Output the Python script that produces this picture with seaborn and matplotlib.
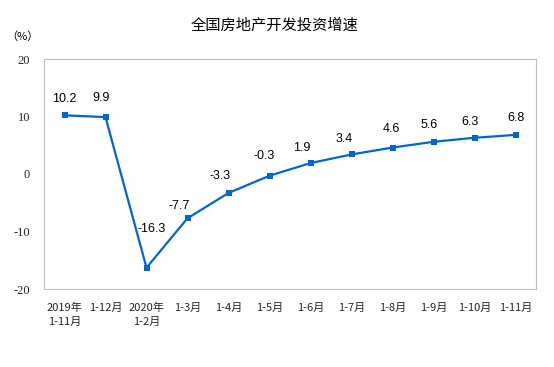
import matplotlib
matplotlib.use("Agg")
import matplotlib.pyplot as plt
import seaborn as sns
import numpy as np
import pandas as pd

# data
periods = ["2019年\n1-11月", "1-12月", "2020年\n1-2月", "1-3月", "1-4月", "1-5月",
           "1-6月", "1-7月", "1-8月", "1-9月", "1-10月", "1-11月"]
growth = [10.2, 9.9, -16.3, -7.7, -3.3, -0.3, 1.9, 3.4, 4.6, 5.6, 6.3, 6.8]
y_ticks = [-20, -10, 0, 10, 20]

# label offsets in points (dx, dy)
label_offsets = [(0, 12), (-3, 14), (4, 28), (-6, 9), (-6, 12), (-4, 14),
                 (-6, 11), (-5, 11), (-1, 13), (-3, 12), (-3, 11), (0, 12)]

sns.set_theme(style="white")
plt.rcParams['font.family'] = ['Noto Sans CJK SC', 'DejaVu Sans']

df = pd.DataFrame({"pos": np.arange(len(periods)), "growth": growth})

fig = plt.figure(figsize=(5.54, 3.67), dpi=100)
ax = fig.add_axes([44 / 554, 1 - 289 / 367, (536 - 44) / 554, (289 - 59) / 367])

line_color = "#0066CC"
sns.lineplot(data=df, x="pos", y="growth", ax=ax, color=line_color,
             linewidth=1.6, marker="s", markersize=5, markeredgewidth=0)

for i, v in enumerate(growth):
    dx, dy = label_offsets[i]
    ax.annotate(f"{v:.1f}", (i, v), textcoords="offset points", xytext=(dx, dy),
                ha="center", va="center", fontsize=9, family="Liberation Sans",
                color="#000000")

ax.set_xlim(-0.5, len(periods) - 0.5)
ax.set_ylim(-20, 20)
ax.set_yticks(y_ticks)
ax.set_yticklabels([str(t) for t in y_ticks], family="Liberation Serif", fontsize=9)
ax.set_xticks(np.arange(len(periods)))
ax.set_xticklabels(periods, fontsize=8, linespacing=1.5)
ax.set_xticks(np.arange(0.5, len(periods) - 0.5, 1), minor=True)
ax.tick_params(axis="x", which="major", length=0, pad=10)
ax.tick_params(axis="x", which="minor", direction="in", length=3, color="#BFBFBF", width=0.75)
ax.tick_params(axis="y", which="major", direction="in", length=3, color="#BFBFBF", width=0.75, pad=10)
for lbl in ax.get_xticklabels():
    lbl.set_verticalalignment("top")
ax.set_xlabel("")
ax.set_ylabel("")
for s in ax.spines.values():
    s.set_visible(True)
    s.set_color("#BFBFBF")
    s.set_linewidth(0.8)

fig.text(275 / 554, 1 - 25 / 367, "全国房地产开发投资增速", ha="center", va="center",
         fontsize=11, color="#000000")
fig.text(22 / 554, 1 - 37 / 367, "（%）", ha="center", va="center", fontsize=8,
         color="#000000")

fig.savefig("out.png", dpi=100, facecolor="white")
